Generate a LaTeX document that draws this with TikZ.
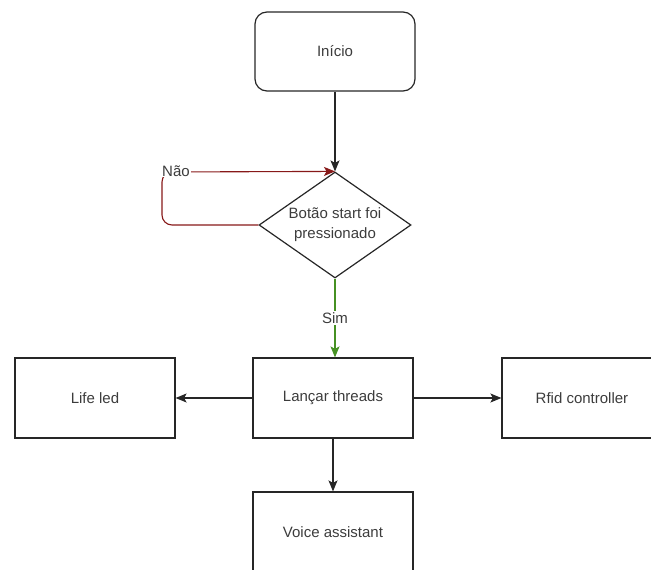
\documentclass[tikz,border=0pt]{standalone}
\usepackage{fontspec}
\setmainfont{Liberation Sans}
\usetikzlibrary{arrows.meta,shapes.geometric}
\definecolor{txt}{RGB}{60,60,60}
\definecolor{nored}{RGB}{135,25,25}
\definecolor{simgreen}{RGB}{70,145,35}
\begin{document}
\begin{tikzpicture}[x=1pt,y=-1pt,
  every node/.style={font=\fontsize{15}{20}\selectfont, text=txt},
  box/.style={draw=black!85, line width=1.2pt, minimum width=160pt, minimum height=80pt, inner sep=0pt},
  arr/.style={-{Stealth[length=11pt,width=9pt,inset=2.5pt]}, line width=1.2pt, draw=black!85},
  lbl/.style={fill=white, inner sep=1pt},
]
\useasboundingbox (0,0) rectangle (651,570);
\clip (0,0) rectangle (651,570);
\node[box, rounded corners=12pt, minimum height=79pt] (inicio) at (335,51.5) {Início};
\node[draw=black!85, line width=1.2pt, diamond, aspect=1.434, minimum width=152pt, minimum height=106pt, inner sep=0pt, align=center] (dec) at (335,225) {Botão start foi\\pressionado};
\node[box] (lanc) at (333,398) {Lançar threads};
\node[box] (life) at (95,398) {Life led};
\node[box] (rfid) at (582,398) {Rfid controller};
\node[box] (voice) at (333,532) {Voice assistant};
\coordinate (cb) at (162,225);
\coordinate (ct) at (162,172);
\draw[arr] (inicio) -- (dec);
\draw[arr, draw=nored, line width=1.1pt, rounded corners=10pt] (dec.west) -- (cb) -- (ct) -- (dec.north);
\node[lbl] at (176,171) {Não};
\draw[arr, draw=simgreen, line width=1.1pt] (dec.south) -- node[lbl] {Sim} (lanc.north -| dec.south);
\draw[arr] (lanc) -- (life);
\draw[arr] (lanc) -- (rfid);
\draw[arr] (lanc) -- (voice);
\end{tikzpicture}
\end{document}
